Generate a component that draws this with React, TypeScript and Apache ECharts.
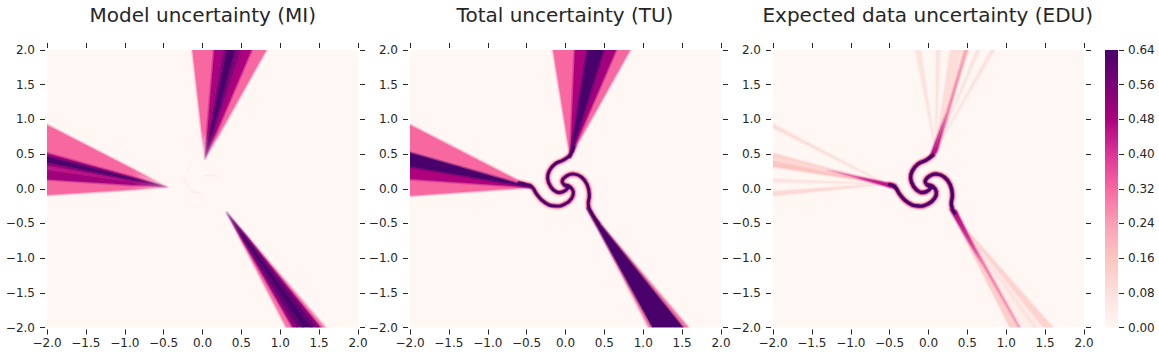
import React, { useEffect, useRef } from "react";
import * as echarts from "echarts";

const titles = ["Model uncertainty (MI)", "Total uncertainty (TU)", "Expected data uncertainty (EDU)"];
const axisRange = [-2, 2];
const colorRange = [0, 0.64];
const ramp = ["#fff7f3", "#fde0dd", "#fcc5c0", "#fa9fb5", "#f768a1", "#dd3497", "#ae017e", "#7a0177", "#49006a"];

type Pt = number[];
type Band = { value: number; pts: Pt[]; fade?: number[]; from?: number };

// Fan boundaries: apex, then where the rays reach the plot edge.
const leftApex = [-0.44, 0.02];
const miLeftEdges = [0.92, 0.51, 0.47, 0.38, 0.33, 0.27, 0.135, -0.09];
const miLeftValues = [0.32, 0.48, 0.63, 0.5, 0.44, 0.5, 0.32];
const tuLeftEdges = [0.92, 0.52, 0.32, 0.14, -0.1];
const tuLeftValues = [0.32, 0.64, 0.48, 0.32];

const miTopApex = [0.03, 0.42];
const miTopEdges = [-0.13, 0.15, 0.25, 0.31, 0.42, 0.5, 0.63, 0.82];
const miTopValues = [0.32, 0.48, 0.52, 0.64, 0.54, 0.48, 0.32];
const tuTopApex = [0.06, 0.46];
const tuTopEdges = [-0.16, 0.12, 0.28, 0.49, 0.65, 0.83];
const tuTopValues = [0.32, 0.48, 0.64, 0.5, 0.32];

const miLowApex = [0.31, -0.34];
const miLowEdges = [1.08, 1.16, 1.21, 1.29, 1.4, 1.48, 1.52, 1.58];
const miLowValues = [0.3, 0.5, 0.58, 0.64, 0.58, 0.5, 0.28];
const tuLowApex = [0.28, -0.28];
const tuLowEdges = [1.07, 1.12, 1.51, 1.58];
const tuLowValues = [0.28, 0.64, 0.3];

// Spiral arm centre lines, in data units.
const armA = [[0.109, 0.606], [0.058, 0.486], [-0.028, 0.414], [-0.135, 0.357], [-0.207, 0.261], [-0.23, 0.15], [-0.19, 0.03], [-0.113, -0.047], [-0.028, -0.042], [0.036, 0.02]];
const armB = [[-0.6, 0.085], [-0.5, 0.06], [-0.435, 0.03], [-0.363, -0.09], [-0.264, -0.2], [-0.135, -0.249], [-0.007, -0.22], [0.079, -0.138], [0.1, -0.042], [0.057, 0.03], [-0.007, 0.054]];
const armC = [[0.42, -0.5], [0.337, -0.354], [0.294, -0.234], [0.306, -0.09], [0.28, 0.054], [0.208, 0.165], [0.1, 0.2125], [0.015, 0.184], [-0.041, 0.116], [-0.015, 0.054], [0.05, 0.02]];
const arms = [armA, armB, armC];
const eduArms = arms.map((a) => a.slice(1));
const tuHalo = [[9, 0.05, 0.8], [7, 0.16, 0.8], [5, 0.34, 0.9]];
const tuCore = [[3, 0.64, 1]];
const eduHalo = [[9, 0.05, 0.8], [7, 0.16, 0.8], [5.4, 0.34, 0.9]];
const eduCore = [[3.4, 0.64, 1]];

// Very faint traces at the centre of the first panel.
const miFaint = [
  [[-0.23, 0.15], [-0.19, 0.03], [-0.113, -0.047], [-0.03, -0.06]],
  [[0.015, 0.184], [0.1, 0.2], [0.2, 0.165]],
  [[-0.264, -0.2], [-0.135, -0.249], [-0.007, -0.2]],
  [[-0.14, 0.35], [-0.2, 0.26]],
];
const miFaintValues = [0.035, 0.03, 0.012, 0.015];

// Light streaks of the third panel: apex, then edge crossing pair and value.
const eduLeftApex = [-0.55, 0.07];
const eduLeftStreaks = [[0.93, 0.88, 0.09], [0.51, 0.45, 0.12], [0.45, 0.39, 0.1], [0.39, 0.32, 0.16], [0.14, 0.1, 0.07], [-0.04, -0.1, 0.1]];
const eduTopApex = [0.09, 0.55];
const eduTopStreaks = [[-0.17, -0.1, 0.07], [0.1, 0.15, 0.07], [0.28, 0.42, 0.09], [0.45, 0.51, 0.15], [0.62, 0.66, 0.07], [0.8, 0.85, 0.07]];
const eduLowApex = [0.31, -0.36];
const eduLowStreaks = [[1.05, 1.17, 0.13], [1.2, 1.48, 0.035], [1.35, 1.4, 0.07], [1.48, 1.6, 0.12]];

const eduTails: Band[] = [
  { value: 0.4, pts: [[-0.45, 0.05], [-0.45, 0.03], [-1.3, 0.26], [-1.3, 0.28]], fade: [-1.35, 0.27, -0.7, 0.12] },
  { value: 0.3, pts: [[0.08, 0.52], [0.12, 0.56], [0.495, 2], [0.475, 2]], fade: [0.55, 2.3, 0.2, 0.9], from: 0.1 },
  { value: 0.31, pts: [[0.29, -0.3], [0.33, -0.3], [1.18, -2], [1.16, -2]], fade: [1.5, -2.7, 0.55, -0.8], from: 0.2 },
  { value: 0.46, pts: [[-0.42, 0.055], [-0.42, 0.0], [-1.0, 0.175], [-1.0, 0.195]], fade: [-0.95, 0.17, -0.5, 0.05] },
  { value: 0.46, pts: [[0.02, 0.46], [0.1, 0.52], [0.24, 1.1], [0.22, 1.1]], fade: [0.24, 1.1, 0.08, 0.52] },
  { value: 0.46, pts: [[0.28, -0.3], [0.36, -0.32], [0.7, -1.1], [0.68, -1.1]], fade: [0.7, -1.1, 0.34, -0.38] },
];

const rgbRamp = ramp.map((h) => [1, 3, 5].map((i) => parseInt(h.slice(i, i + 2), 16)));
function colorOf(v: number, a = 1) {
  const t = Math.min(1, Math.max(0, (v - colorRange[0]) / (colorRange[1] - colorRange[0]))) * (ramp.length - 1);
  const i = Math.min(ramp.length - 2, Math.floor(t));
  const c = rgbRamp[i].map((x, k) => Math.round(x + (rgbRamp[i + 1][k] - x) * (t - i)));
  return `rgba(${c[0]},${c[1]},${c[2]},${a})`;
}

function fan(apex: Pt, edges: number[], values: number[], at: (e: number) => Pt, fade?: number[]): Band[] {
  return values.map((value, i) => ({ value, pts: [apex, at(edges[i]), at(edges[i + 1])], fade })).sort((a, b) => a.value - b.value);
}
const onLeft = (e: number) => [axisRange[0], e];
const onTop = (e: number) => [e, axisRange[1]];
const onLow = (e: number) => [e, axisRange[0]];
function streaks(apex: Pt, list: number[][], at: (e: number) => Pt): Band[] {
  return list.map(([a, b, value]) => ({ value, pts: [apex, at(a), at(b)] }));
}

const miBands: Band[] = [
  ...fan(leftApex, miLeftEdges, miLeftValues, onLeft, [-0.42, 0.02, -0.9, 0.1]),
  ...fan(miTopApex, miTopEdges, miTopValues, onTop, [0.03, 0.4, 0.12, 0.8]),
  ...fan(miLowApex, miLowEdges, miLowValues, onLow, [0.29, -0.3, 0.52, -0.72]),
];
const tuBands: Band[] = [
  ...fan(leftApex, tuLeftEdges, tuLeftValues, onLeft),
  ...fan(tuTopApex, tuTopEdges, tuTopValues, onTop),
  ...fan(tuLowApex, tuLowEdges, tuLowValues, onLow),
];
const eduBands: Band[] = [
  ...streaks(eduLeftApex, eduLeftStreaks, onLeft),
  ...streaks(eduTopApex, eduTopStreaks, onTop),
  ...streaks(eduLowApex, eduLowStreaks, onLow),
  ...eduTails,
];

const INK = "#262626";
const FONT = "DejaVu Sans";
const grids = [
  { left: 47, top: 50, width: 311, height: 277.5 },
  { left: 410, top: 50, width: 311, height: 277.5 },
  { left: 773, top: 50, width: 311, height: 277.5 },
];
const centers = [202.8, 565, 927.7];

function bandSeries(bands: Band[], idx: number) {
  return {
    type: "custom",
    xAxisIndex: idx * 2,
    yAxisIndex: idx * 2,
    clip: true,
    silent: true,
    data: bands.map((b) => [b.value]),
    renderItem: (p: any, api: any) => {
      const b = bands[p.dataIndex];
      const points = b.pts.map((q) => api.coord(q));
      let fill: any = colorOf(b.value);
      let edge: any = colorOf(b.value, 0.3);
      if (b.fade) {
        const s = api.coord([b.fade[0], b.fade[1]]);
        const e = api.coord([b.fade[2], b.fade[3]]);
        const mk = (k: number) =>
          new echarts.graphic.LinearGradient(s[0], s[1], e[0], e[1], [
            { offset: 0, color: colorOf(b.value, (b.from || 0) * k) },
            { offset: 1, color: colorOf(b.value, k) },
          ], true);
        fill = mk(1);
        edge = mk(0.3);
      }
      return {
        type: "group",
        children: [
          { type: "polygon", shape: { points }, style: { fill: "none", stroke: edge, lineWidth: 3.2, lineJoin: "round" } },
          { type: "polygon", shape: { points }, style: { fill, stroke: edge, lineWidth: 1.4, lineJoin: "round" } },
        ],
      };
    },
  };
}

function lineSeries(lines: number[][][], layers: number[][], idx: number) {
  const rows: { line: number[][]; layer: number[] }[] = [];
  layers.forEach((layer) => lines.forEach((line) => rows.push({ line, layer })));
  return {
    type: "custom",
    xAxisIndex: idx * 2,
    yAxisIndex: idx * 2,
    clip: true,
    silent: true,
    data: rows.map((r) => [r.layer[1]]),
    renderItem: (p: any, api: any) => {
      const r = rows[p.dataIndex];
      return {
        type: "polyline",
        shape: { points: r.line.map((q) => api.coord(q)), smooth: 0.5 },
        style: { fill: "none", stroke: colorOf(r.layer[1], r.layer[2]), lineWidth: r.layer[0], lineCap: "round", lineJoin: "round" },
      };
    },
  };
}

function faintSeries() {
  return {
    type: "custom",
    xAxisIndex: 0,
    yAxisIndex: 0,
    clip: true,
    silent: true,
    data: miFaintValues.map((v) => [v]),
    renderItem: (p: any, api: any) => ({
      type: "polyline",
      shape: { points: miFaint[p.dataIndex].map((q) => api.coord(q)), smooth: 0.5 },
      style: { fill: "none", stroke: colorOf(miFaintValues[p.dataIndex]), lineWidth: 1.6, lineCap: "round" },
    }),
  };
}

function fmt(v: number) {
  return v.toFixed(1).replace("-", "\u2212");
}

function App() {
  const ref = useRef<HTMLDivElement>(null);
  useEffect(() => {
    document.body.style.margin = "0";
    const chart = echarts.init(ref.current!, undefined, { renderer: "svg" });
    const xAxes: any[] = [];
    const yAxes: any[] = [];
    grids.forEach((_, i) => {
      const base = { type: "value", min: axisRange[0], max: axisRange[1], interval: 0.5, gridIndex: i, splitLine: { show: false }, axisLine: { show: false, onZero: false }, offset: 2 };
      const tick = { show: true, length: 5, lineStyle: { color: INK, width: 1 } };
      const label = { show: true, color: INK, fontFamily: FONT, fontSize: 12, margin: 10, formatter: fmt, showMinLabel: true, showMaxLabel: true };
      xAxes.push({ ...base, position: "bottom", axisTick: tick, axisLabel: { ...label, margin: 7 } });
      xAxes.push({ ...base, position: "top", axisTick: tick, axisLabel: { show: false } });
      yAxes.push({ ...base, position: "left", axisTick: tick, axisLabel: label });
      yAxes.push({ ...base, position: "right", axisTick: tick, axisLabel: { show: false } });
    });
    xAxes.push({ type: "value", min: 0, max: 1, gridIndex: 3, show: false });
    yAxes.push({
      type: "value", min: colorRange[0], max: colorRange[1], interval: 0.08, gridIndex: 3, position: "right", offset: 1,
      splitLine: { show: false }, axisLine: { show: false, onZero: false },
      axisTick: { show: true, length: 5, lineStyle: { color: INK, width: 1 } },
      axisLabel: { color: INK, fontFamily: FONT, fontSize: 12, margin: 9, formatter: (v: number) => v.toFixed(2) },
    });
    chart.setOption({
      animation: false,
      backgroundColor: "#ffffff",
      title: titles.map((text, i) => ({
        text, left: centers[i], top: 5, padding: 0, textAlign: "center",
        textStyle: { color: INK, fontFamily: FONT, fontSize: 20, fontWeight: "normal" },
      })),
      grid: [
        ...grids.map((g) => ({ ...g, show: true, backgroundColor: ramp[0], borderWidth: 0 })),
        { left: 1105, top: 50, width: 13, height: 277.5, show: false },
      ],
      xAxis: xAxes,
      yAxis: yAxes,
      series: [
        bandSeries(miBands, 0),
        faintSeries(),
        lineSeries(arms, tuHalo, 1),
        bandSeries(tuBands, 1),
        lineSeries(arms, tuCore, 1),
        lineSeries(eduArms, eduHalo, 2),
        bandSeries(eduBands, 2),
        lineSeries(eduArms, eduCore, 2),
        {
          type: "custom",
          xAxisIndex: 6,
          yAxisIndex: 6,
          silent: true,
          data: [[0, colorRange[0]]],
          renderItem: (_: any, api: any) => {
            const a = api.coord([0, colorRange[1]]);
            const b = api.coord([1, colorRange[0]]);
            return {
              type: "rect",
              shape: { x: a[0], y: a[1], width: b[0] - a[0], height: b[1] - a[1] },
              style: {
                fill: new echarts.graphic.LinearGradient(0, 1, 0, 0, ramp.map((color, i) => ({ offset: i / (ramp.length - 1), color }))),
              },
            };
          },
        },
      ],
    });
    return () => chart.dispose();
  }, []);
  return <div ref={ref} style={{ width: 1159, height: 358 }} />;
}

export default App;
